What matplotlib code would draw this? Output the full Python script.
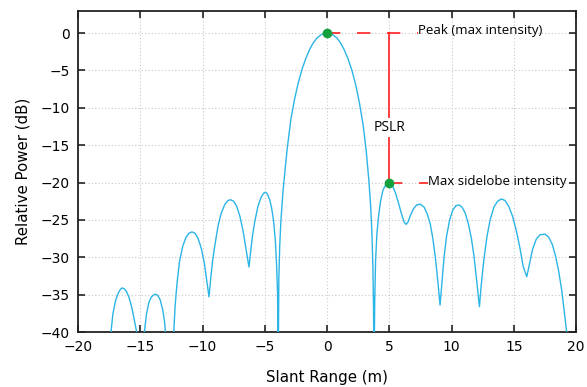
import matplotlib
matplotlib.use("Agg")
import numpy as np
import matplotlib.pyplot as plt

# impulse response (slant range in m, power in dB)
range_m = [-17.6, -17.35, -17.2, -17.0, -16.8, -16.6, -16.45, -16.3, -16.1, -15.9, -15.7, -15.5, -15.29, -15.0,
           -14.67, -14.5, -14.3, -14.1, -13.9, -13.75, -13.6, -13.4, -13.2, -13.05, -12.98, -12.65,
           -12.31, -12.2, -12.05, -11.85, -11.6, -11.35, -11.1, -10.85, -10.6, -10.35, -10.1, -9.85, -9.65, -9.48,
           -9.35, -9.2, -9.0, -8.75, -8.5, -8.2, -7.95, -7.75, -7.5, -7.25, -7.0, -6.75, -6.5, -6.27,
           -6.15, -6.0, -5.8, -5.55, -5.3, -5.1, -4.95, -4.8, -4.6, -4.45, -4.3, -4.15, -4.05, -3.97, -3.92,
           -3.87, -3.8, -3.7, -3.55, -3.4, -3.2, -2.9, -2.6, -2.3, -2.0, -1.7, -1.4, -1.1, -0.8, -0.5, -0.25, 0.0,
           0.25, 0.5, 0.8, 1.1, 1.4, 1.7, 2.0, 2.3, 2.6, 2.9, 3.15, 3.35, 3.5, 3.6, 3.68, 3.73, 3.78,
           3.83, 3.9, 4.0, 4.12, 4.3, 4.5, 4.75, 5.0, 5.25, 5.5, 5.75, 6.0, 6.2, 6.35,
           6.5, 6.7, 6.95, 7.2, 7.5, 7.8, 8.05, 8.3, 8.5, 8.7, 8.9, 9.08,
           9.25, 9.4, 9.6, 9.85, 10.1, 10.35, 10.6, 10.85, 11.1, 11.35, 11.6, 11.8, 12.0, 12.24,
           12.4, 12.6, 12.85, 13.1, 13.4, 13.7, 14.0, 14.3, 14.6, 14.9, 15.2, 15.5, 15.75, 16.04,
           16.25, 16.5, 16.8, 17.1, 17.5, 17.8, 18.1, 18.35, 18.6, 18.85, 19.05, 19.25, 19.4]
power_db = [-44, -40, -37.6, -35.9, -34.9, -34.3, -34.1, -34.2, -34.6, -35.4, -36.6, -38.2, -40, -46,
            -40, -37.6, -36.0, -35.3, -35.0, -34.95, -35.1, -35.7, -37.0, -38.6, -40, -46,
            -40, -36.5, -33.5, -30.6, -28.6, -27.4, -26.8, -26.6, -26.8, -27.5, -28.8, -30.8, -33.2, -35.3,
            -33.0, -30.6, -28.3, -25.8, -24.1, -22.9, -22.4, -22.3, -22.5, -23.2, -24.5, -26.4, -29.0, -31.3,
            -29.5, -27.3, -25.2, -23.2, -22.0, -21.45, -21.3, -21.5, -22.3, -23.4, -25.0, -27.8, -31.0, -35.0, -45,
            -33, -28.5, -25.0, -21.5, -18.8, -15.5, -11.5, -8.8, -6.6, -4.8, -3.4, -2.2, -1.3, -0.65, -0.25, -0.06, 0.0,
            -0.06, -0.26, -0.68, -1.35, -2.3, -3.5, -5.0, -6.9, -9.3, -12.3, -15.8, -19.5, -23.0, -26.5, -31, -36, -45,
            -36, -30.5, -27.0, -24.8, -22.5, -21.0, -20.2, -20.0, -20.4, -21.4, -22.8, -24.3, -25.3, -25.6,
            -25.3, -24.4, -23.5, -23.0, -22.9, -23.3, -24.2, -25.6, -27.5, -30.0, -33.2, -36.4,
            -33.0, -30.0, -27.2, -25.0, -23.7, -23.1, -23.0, -23.3, -24.1, -25.5, -27.5, -29.8, -32.8, -36.6,
            -33.5, -30.3, -27.2, -25.0, -23.3, -22.5, -22.2, -22.4, -23.2, -24.5, -26.4, -28.8, -31.2, -32.6,
            -31.0, -29.0, -27.6, -27.0, -26.9, -27.3, -28.3, -29.8, -31.8, -34.4, -37.2, -40, -44]

peak = (0.0, 0.0)
sidelobe = (5.0, -20.0)

fig = plt.figure(figsize=(5.87, 3.87), dpi=100)
ax = fig.add_axes([0.1329, 0.1421, 0.8484, 0.8295])

ax.plot(range_m, power_db, color="#2bb5e6", lw=1.0, zorder=3,
        solid_joinstyle="round")

# annotation lines
ax.plot([peak[0], 7.3], [peak[1], peak[1]], color="#ff2020", lw=1.2,
        dashes=(8, 10), zorder=4)
ax.plot([sidelobe[0], 8.1], [sidelobe[1], sidelobe[1]], color="#ff2020", lw=1.2,
        dashes=(8, 10), zorder=4)
ax.plot([sidelobe[0], sidelobe[0]], [peak[1], sidelobe[1]], color="#ff2020",
        lw=1.2, zorder=4)
ax.plot([peak[0], sidelobe[0]], [peak[1], sidelobe[1]], "o", color="#15a040",
        ms=6, zorder=5)

ax.text(7.3, 0.4, "Peak (max intensity)", fontsize=9.5, family="Open Sans",
        va="center", ha="left", zorder=6)
ax.text(8.1, -19.8, "Max sidelobe intensity", fontsize=9.5, family="Open Sans",
        va="center", ha="left", zorder=6)
ax.text(5.0, -12.6, "PSLR", fontsize=10, family="Open Sans", va="center",
        ha="center", zorder=6,
        bbox=dict(facecolor="white", edgecolor="none", pad=1.5))

ax.set_xlim(-20, 20)
ax.set_ylim(-40, 2.95)
ax.set_xticks(np.arange(-20, 21, 5))
ax.set_yticks(np.arange(-40, 1, 5))
ax.grid(True, color="#c8c8c8", ls=(0, (1, 2)), lw=0.8)
ax.tick_params(direction="in", length=5, width=1.2, top=True, right=True,
               labelsize=10, pad=6, colors="#222222", labelcolor="black")
for s in ax.spines.values():
    s.set_linewidth(1.3)
    s.set_color("#222222")

ax.set_xlabel("Slant Range (m)", fontsize=10.8, labelpad=11)
ax.set_ylabel("Relative Power (dB)", fontsize=10.8, labelpad=7)

fig.savefig("out.png", dpi=100)
